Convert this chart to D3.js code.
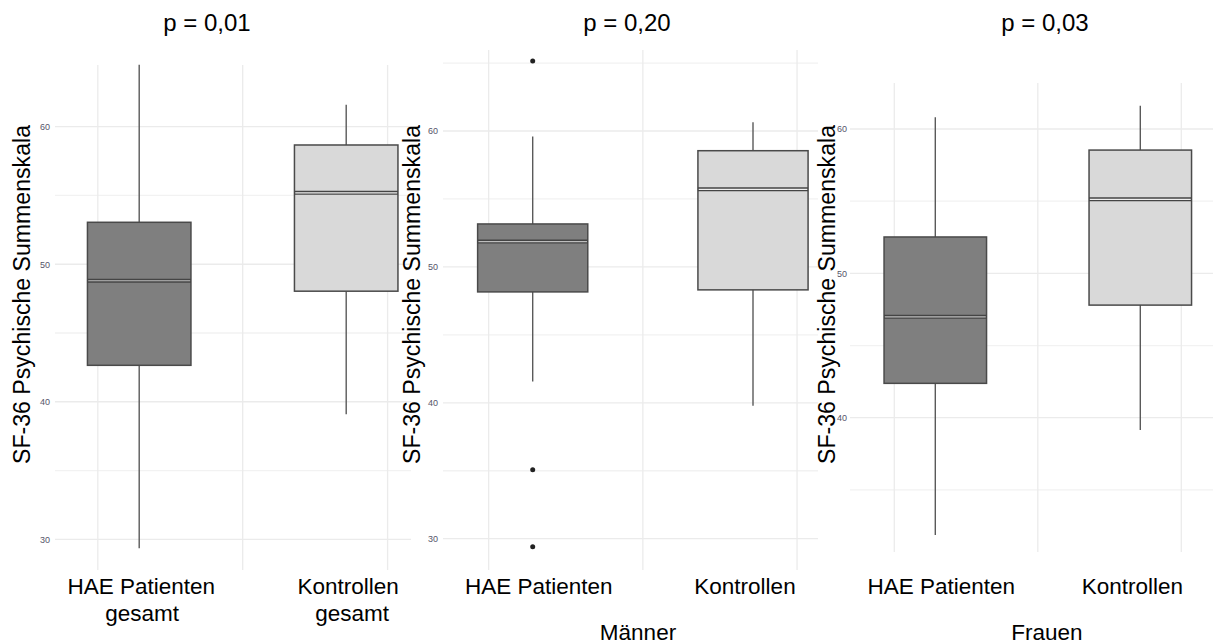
<!DOCTYPE html>
<html>
<head>
<meta charset="utf-8">
<script src="https://cdn.jsdelivr.net/npm/d3@7"></script>
<style>
  html, body { margin: 0; padding: 0; background: #fff; }
  svg { display: block; font-family: "Liberation Sans", Arial, sans-serif; }
</style>
</head>
<body>
<svg id="chart" width="1213" height="644"></svg>
<script>
// ---------- data ----------
const categories = ["HAE Patienten", "Kontrollen"];
const panelTitles = ["p = 0,01", "p = 0,20", "p = 0,03"];
const groupLabels = ["", "Männer", "Frauen"];
const xLabelsGesamt = [["HAE Patienten", "gesamt"], ["Kontrollen", "gesamt"]];
const xLabelsGroup = [["HAE Patienten"], ["Kontrollen"]];
const yTitle = "SF-36 Psychische Summenskala";
const yTicksFull = [30, 40, 50, 60];
const yTicksFrauen = [40, 50, 60];
const xGridPositions = [0.8, 1.5, 2.2];
// [lower whisker, Q1, median, Q3, upper whisker]
const statsGesamt  = [[29.35, 42.65, 48.8, 53.05, 64.5], [39.1, 48.04, 55.19, 58.67, 61.6]];
const statsMaenner = [[41.57, 48.16, 51.86, 53.16, 59.6], [39.78, 48.31, 55.71, 58.55, 60.64]];
const statsFrauen  = [[31.87, 42.38, 46.99, 52.52, 60.81], [39.15, 47.8, 55.13, 58.54, 61.61]];
const outliersGesamt = [[], []];
const outliersMaenner = [[65.15, 35.07, 29.4], []];
const outliersFrauen = [[], []];

// ---------- layout ----------
const panels = [
  { stats: statsGesamt, outliers: outliersGesamt, labels: xLabelsGesamt, title: panelTitles[0], group: groupLabels[0],
    ticks: yTicksFull, yDom: [30, 60], yRange: [539.3, 126.7], xRange: [139.2, 346.2],
    left: 55, right: 411, top: 65, bottom: 570, tickX: 50, yTitleX: 22, titleX: 207, groupX: 0 },
  { stats: statsMaenner, outliers: outliersMaenner, labels: xLabelsGroup, title: panelTitles[1], group: groupLabels[1],
    ticks: yTicksFull, yDom: [30, 60], yRange: [538.7, 131], xRange: [532.7, 753],
    left: 443, right: 818, top: 50, bottom: 570, tickX: 438, yTitleX: 412, titleX: 627, groupX: 638 },
  { stats: statsFrauen, outliers: outliersFrauen, labels: xLabelsGroup, title: panelTitles[2], group: groupLabels[2],
    ticks: yTicksFrauen, yDom: [40, 60], yRange: [417.7, 129], xRange: [935.3, 1140.3],
    left: 850, right: 1213, top: 83, bottom: 552, tickX: 847, yTitleX: 827, titleX: 1045, groupX: 1047 }
];

const svg = d3.select("#chart");
const fills = ["#7f7f7f", "#d9d9d9"];
const medianInner = ["#bdbdbd", "#efefef"];

panels.forEach((p, pi) => {
  const y = d3.scaleLinear().domain(p.yDom).range(p.yRange);
  const x = d3.scaleLinear().domain([1, 2]).range(p.xRange);
  const g = svg.append("g");

  const lo = y.invert(p.bottom), hi = y.invert(p.top);
  const minor = d3.range(Math.ceil(lo / 5) * 5, hi + 0.001, 5).filter(v => v % 10 !== 0);
  const major = d3.range(Math.ceil(lo / 10) * 10, hi + 0.001, 10);
  g.selectAll(".hminor").data(minor).join("line")
    .attr("x1", p.left).attr("x2", p.right)
    .attr("y1", d => y(d)).attr("y2", d => y(d))
    .attr("stroke", "#f2f2f2").attr("stroke-width", 1.3);
  g.selectAll(".hmajor").data(major).join("line")
    .attr("x1", p.left).attr("x2", p.right)
    .attr("y1", d => y(d)).attr("y2", d => y(d))
    .attr("stroke", "#ebebeb").attr("stroke-width", 1.3);
  g.selectAll(".vgrid").data(xGridPositions).join("line")
    .attr("x1", d => x(d)).attr("x2", d => x(d))
    .attr("y1", p.top).attr("y2", p.bottom)
    .attr("stroke", "#ebebeb").attr("stroke-width", 1.3);

  const axis = d3.axisLeft(y).tickValues(p.ticks).tickSize(0).tickPadding(0);
  const ax = g.append("g").attr("transform", `translate(${p.tickX},0)`).call(axis);
  ax.select(".domain").remove();
  ax.selectAll("text").attr("fill", "#55556a").attr("font-size", 9)
    .attr("font-family", "Liberation Sans, Arial, sans-serif");

  g.append("text")
    .attr("transform", `translate(${p.yTitleX},${(125 + 464) / 2}) rotate(-90)`)
    .attr("text-anchor", "middle").attr("dominant-baseline", "central")
    .attr("font-size", 23).attr("fill", "#000")
    .attr("textLength", 339).attr("lengthAdjust", "spacingAndGlyphs")
    .text(yTitle);

  const bw = 0.5;
  p.stats.forEach((s, i) => {
    const cx = x(i + 1);
    const x0 = x(i + 1 - bw / 2), x1 = x(i + 1 + bw / 2);
    g.append("line").attr("x1", cx).attr("x2", cx).attr("y1", y(s[3])).attr("y2", y(s[4]))
      .attr("stroke", "#5a5a5a").attr("stroke-width", 1.4);
    g.append("line").attr("x1", cx).attr("x2", cx).attr("y1", y(s[1])).attr("y2", y(s[0]))
      .attr("stroke", "#5a5a5a").attr("stroke-width", 1.4);
    g.append("rect").attr("x", x0).attr("y", y(s[3]))
      .attr("width", x1 - x0).attr("height", y(s[1]) - y(s[3]))
      .attr("fill", fills[i]).attr("stroke", "#4a4a4a").attr("stroke-width", 1.5);
    g.append("line").attr("x1", x0).attr("x2", x1).attr("y1", y(s[2])).attr("y2", y(s[2]))
      .attr("stroke", "#444").attr("stroke-width", 4);
    g.append("line").attr("x1", x0 + 0.8).attr("x2", x1 - 0.8).attr("y1", y(s[2])).attr("y2", y(s[2]))
      .attr("stroke", medianInner[i]).attr("stroke-width", 1.2);
    g.selectAll(null).data(p.outliers[i]).join("circle")
      .attr("cx", cx).attr("cy", d => y(d)).attr("r", 2.5).attr("fill", "#222");
    const lab = g.append("text").attr("text-anchor", "middle").attr("font-size", 22.5).attr("fill", "#000");
    p.labels[i].forEach((line, li) => {
      lab.append("tspan").attr("x", cx + (pi === 0 ? 2 + li * (i === 1 ? 4 : 1) : (i === 0 ? 6 : -8)))
        .attr("y", 594 + li * 27).text(line);
    });
  });

  g.append("text").attr("x", p.titleX).attr("y", 31).attr("text-anchor", "middle")
    .attr("font-size", 24).attr("fill", "#000").text(p.title);
  if (p.group) {
    g.append("text").attr("x", p.groupX).attr("y", 640).attr("text-anchor", "middle")
      .attr("font-size", 22.5).attr("fill", "#000").text(p.group);
  }
});
</script>
</body>
</html>
